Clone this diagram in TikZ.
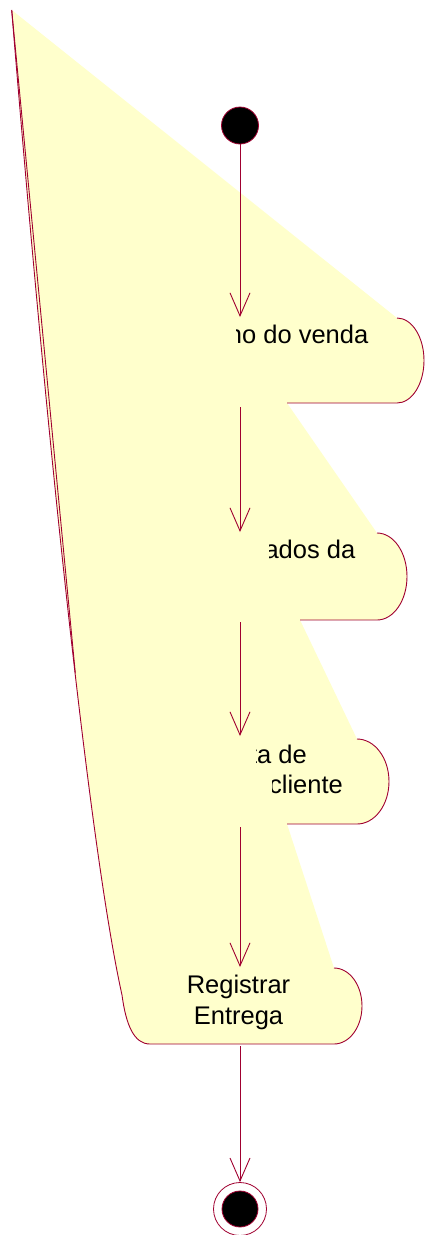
\documentclass[tikz,border=0pt]{standalone}
\usepackage{fontspec}
\setmainfont{Liberation Sans}
\usetikzlibrary{arrows.meta}
\definecolor{rose}{RGB}{160,0,48}
\definecolor{actfill}{RGB}{255,255,204}
\tikzset{
  border/.style={draw=rose, line width=0.9pt},
  flow/.style={draw=rose, line width=0.9pt, -{Straight Barb[length=23pt,width=20pt,line width=0.9pt]}},
  lbl/.style={font=\fontsize{25.5}{31}\selectfont, inner sep=0pt, text=black},
  startdot/.style={circle, fill=black, draw=rose, line width=0.8pt, minimum size=37pt, inner sep=0pt},
  endring/.style={circle, fill=white, draw=rose, line width=0.8pt, minimum size=53pt, inner sep=0pt},
}
\begin{document}
\begin{tikzpicture}[x=1pt,y=-1pt]
\useasboundingbox (0,0) rectangle (424,1235);
% yellow region (distorted activity shapes)
\fill[actfill] (11.7,10) -- (397,318)
  .. controls (411.9,318) and (424,337) .. (424,360.5)
  .. controls (424,384) and (411.9,403) .. (397,403)
  -- (287,403) -- (377,533)
  .. controls (393.6,533) and (407,552.5) .. (407,576.5)
  .. controls (407,600.5) and (393.6,620) .. (377,620)
  -- (300,620) -- (357,739)
  .. controls (374.7,739) and (389,758) .. (389,781.5)
  .. controls (389,805) and (374.7,824) .. (357,824)
  -- (287,824) -- (334,968)
  .. controls (349.5,968) and (362,985) .. (362,1006)
  .. controls (362,1027) and (349.5,1044) .. (334,1044)
  -- (150,1044) .. controls (134,1044) and (126,1025) .. (122,995)
  .. controls (92,860) and (50,480) .. (11.7,10) -- cycle;
% outlines
\draw[border] (397,318)
  .. controls (411.9,318) and (424,337) .. (424,360.5)
  .. controls (424,384) and (411.9,403) .. (397,403) -- (287,403);
\draw[border] (377,533)
  .. controls (393.6,533) and (407,552.5) .. (407,576.5)
  .. controls (407,600.5) and (393.6,620) .. (377,620) -- (300,620);
\draw[border] (357,739)
  .. controls (374.7,739) and (389,758) .. (389,781.5)
  .. controls (389,805) and (374.7,824) .. (357,824) -- (287,824);
\draw[border] (11.7,10) .. controls (50,480) and (92,860) .. (122,995)
  .. controls (126,1025) and (134,1044) .. (150,1044) -- (334,1044)
  .. controls (349.5,1044) and (362,1027) .. (362,1006)
  .. controls (362,985) and (349.5,968) .. (334,968);
\draw[border] (11.7,10) -- (75.3,673);
% labels (clipped as in the picture)
\begin{scope}
  \clip (236,300) rectangle (424,400);
  \node[lbl, anchor=base east] (t1) at (368.5,343) {no do venda};
\end{scope}
\begin{scope}
  \clip (269,520) rectangle (424,600);
  \node[lbl, anchor=base east] (t2) at (355.5,558) {ados da};
\end{scope}
\begin{scope}
  \clip (256,735) rectangle (424,770);
  \node[lbl, anchor=base east] (t3a) at (307,763) {ta de};
\end{scope}
\begin{scope}
  \clip (272.5,770) rectangle (424,810);
  \node[lbl, anchor=base east] (t3b) at (343,793) {cliente};
\end{scope}
\node[lbl, align=center] (t4) at (238.5,1002.5) {Registrar\\Entrega};
% nodes
\node[startdot] (init) at (240,125.5) {};
\node[endring] (final) at (240,1209) {};
\node[startdot, minimum size=36pt] (finaldot) at (240,1209) {};
% connector end points
\coordinate (a1top) at (240,317);
\coordinate (a1bot) at (240,407);
\coordinate (a2top) at (240,532);
\coordinate (a2bot) at (240,622);
\coordinate (a3top) at (240,736);
\coordinate (a3bot) at (240,827);
\coordinate (a4top) at (240,967);
\coordinate (a4bot) at (240,1046);
\draw[flow] (init) -- (a1top);
\draw[flow] (a1bot) -- (a2top);
\draw[flow] (a2bot) -- (a3top);
\draw[flow] (a3bot) -- (a4top);
\draw[flow] (a4bot) -- (final);
\end{tikzpicture}
\end{document}
